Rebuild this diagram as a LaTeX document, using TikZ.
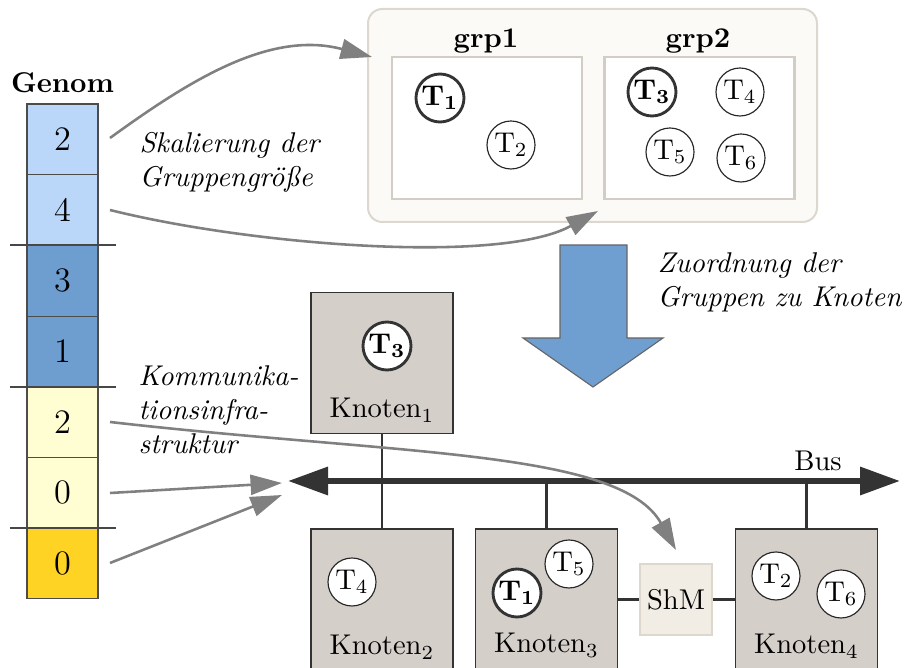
\documentclass[tikz,border=0pt]{standalone}
\usetikzlibrary{arrows.meta}
\definecolor{gLight}{HTML}{BAD6F8}
\definecolor{gDark}{HTML}{6E9DCF}
\definecolor{gPale}{HTML}{FFFDD2}
\definecolor{gGold}{HTML}{FFD324}
\definecolor{nodeFill}{HTML}{D5CFC9}
\definecolor{grpFill}{HTML}{FBFAF7}
\definecolor{grpLine}{HTML}{DCD7CF}
\definecolor{boxLine}{HTML}{D3CDC5}
\definecolor{shmFill}{HTML}{F2EDE4}
\definecolor{shmLine}{HTML}{DDD7CD}
\definecolor{arrowBlue}{HTML}{6F9ED0}
\definecolor{flowGray}{HTML}{808080}
\definecolor{ink}{HTML}{333333}
\newcommand\pxu{0.35pt}
\begin{document}
\begin{tikzpicture}[x=0.35pt,y=-0.35pt,
  cell/.style={draw=black!70, line width=0.4pt, minimum width=71*\pxu,
    minimum height=70.7*\pxu, inner sep=0pt, font=\large},
  sepline/.style={draw=ink!90, line width=1pt},
  grpbox/.style={draw=grpLine, fill=grpFill, line width=0.7pt,
    rounded corners=5pt, minimum width=449*\pxu, minimum height=213*\pxu},
  memberbox/.style={draw=boxLine, fill=white, line width=1pt,
    minimum width=190*\pxu, minimum height=142*\pxu},
  knoten/.style={draw=ink, fill=nodeFill, line width=0.5pt,
    minimum width=142*\pxu, inner sep=0pt},
  task/.style={circle, draw=black!85, fill=white, line width=0.4pt,
    minimum size=48*\pxu, inner sep=0pt},
  taskb/.style={task, draw=ink, line width=1pt},
  link/.style={draw=ink, line width=0.95pt},
  bus/.style={draw=ink, line width=2.1pt,
    {Triangle[length=14pt,width=9.5pt]}-{Triangle[length=14pt,width=9.5pt]}},
  flow/.style={draw=flowGray, line width=0.9pt,
    -{Triangle[length=11pt,width=7pt]}},
  note/.style={font=\itshape, align=left, anchor=north west, inner sep=0pt}]

\useasboundingbox (0,0) rectangle (909,668);
\clip (0,0) rectangle (909,668);

% genome column
\node[anchor=base, font=\bfseries] (genom) at (62.5,93) {Genom};
\foreach \v/\c [count=\i] in {2/gLight,4/gLight,3/gDark,1/gDark,2/gPale,0/gPale,0/gGold}
  \node[cell, fill=\c] (g\i) at (62.5,{104+70.7*(\i-0.5)}) {\v};
\foreach \y in {245,387,528}
  \draw[sepline] (10,\y) -- (116,\y);

% groups
\node[grpbox] (groups) at (592.5,115.5) {};
\node[memberbox] (grp1) at (487,128) {};
\node[memberbox] (grp2) at (699.5,128) {};
\node[anchor=base, font=\bfseries] (grp1t) at (486,48) {grp1};
\node[anchor=base, font=\bfseries] (grp2t) at (698,48) {grp2};
\node[taskb] (ga1) at (440,98) {\textbf{T}$_{\mathbf{1}}$};
\node[task] (ga2) at (511,145) {T$_2$};
\node[taskb] (gb3) at (652,92) {\textbf{T}$_{\mathbf{3}}$};
\node[task] (gb4) at (740,92) {T$_4$};
\node[task] (gb5) at (670,152) {T$_5$};
\node[task] (gb6) at (741,158) {T$_6$};

% mapping arrow
\draw[fill=arrowBlue, draw=black!60, line width=0.4pt]
  (560,245) -- (627,245) -- (627,338) -- (663,338) -- (593,387)
  -- (523,338) -- (560,338) -- cycle;
\node[note] (mapnote) at (657,252) {Zuordnung der\\Gruppen zu Knoten};

% nodes of the machine
\node[knoten, minimum height=141*\pxu] (kn1) at (382,363) {};
\node[knoten, minimum height=171*\pxu] (kn2) at (382,614.5) {};
\node[knoten, minimum height=171*\pxu] (kn3) at (546.5,614.5) {};
\node[knoten, minimum height=171*\pxu] (kn4) at (806.5,614.5) {};
\node[draw=shmLine, fill=shmFill, line width=0.5pt, minimum width=72*\pxu,
  minimum height=71*\pxu, inner sep=0pt] (shm) at (676,599.5) {ShM};

\node[anchor=base] (kn1l) at (382,418) {Knoten$_1$};
\node[anchor=base] (kn2l) at (382,655) {Knoten$_2$};
\node[anchor=base] (kn3l) at (546.5,653) {Knoten$_3$};
\node[anchor=base] (kn4l) at (806.5,654) {Knoten$_4$};

\node[taskb] (k1t3) at (387,346) {\textbf{T}$_{\mathbf{3}}$};
\node[task] (k2t4) at (352,582) {T$_4$};
\node[task] (k3t5) at (569,564) {T$_5$};
\node[taskb] (k3t1) at (517,593) {\textbf{T}$_{\mathbf{1}}$};
\node[task] (k4t2) at (776,576) {T$_2$};
\node[task] (k4t6) at (841,594) {T$_6$};

% bus and its links
\coordinate (busL) at (288,481);
\coordinate (busR) at (900,481);
\draw[link] (kn1.south) -- (kn2.north);
\draw[link] (kn3.north) -- (kn3.north |- busL);
\draw[link] (kn4.north) -- (kn4.north |- busL);
\draw[link] (kn3.east |- shm) -- (shm.west);
\draw[link] (shm.east) -- (kn4.west |- shm);
\draw[bus] (busL) -- (busR);
\node[anchor=base] (buslabel) at (818,471) {Bus};

% genome to phenotype arrows
\coordinate (s1) at (110,138);
\coordinate (s2) at (110,210);
\coordinate (s5) at (110,422);
\coordinate (s6) at (110,493);
\coordinate (s7) at (110,563);
\coordinate (e1) at (372,57);
\coordinate (e2) at (598,211);
\coordinate (e5) at (676,550);
\coordinate (e6) at (282,483);
\coordinate (e7) at (282,495);
\draw[flow] (s1) .. controls (190,80) and (270,30) .. (e1);
\draw[flow] (s2) .. controls (250,245) and (500,265) .. (e2);
\draw[flow] (s5) .. controls (400,455) and (620,450) .. (e5);
\draw[flow] (s6) -- (e6);
\draw[flow] (s7) -- (e7);

\node[note] (scalenote) at (139,132) {Skalierung der\\Gruppengröße};
\node[note] (commnote) at (138,365) {Kommunika-\\tionsinfra-\\struktur};
\end{tikzpicture}
\end{document}
